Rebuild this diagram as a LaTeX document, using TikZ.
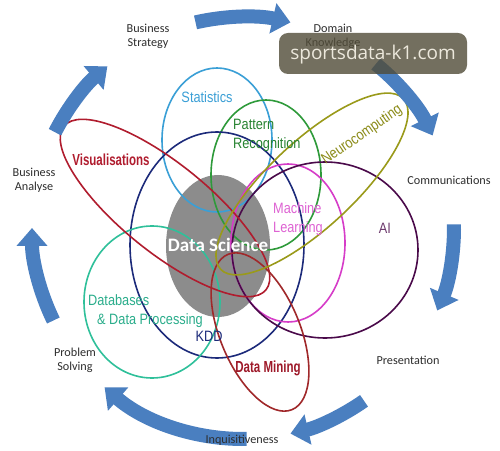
\documentclass[tikz,border=0pt]{standalone}
\usepackage{fontspec}
\setmainfont{Carlito}
\newfontfamily\narrowfont[FakeStretch=0.85]{Liberation Sans}
\newfontfamily\condfont[FakeStretch=0.72]{Liberation Sans}
\newfontfamily\markfont{Open Sans}
\usetikzlibrary{arrows.meta}
\definecolor{cycleblue}{HTML}{4A7FC0}
\definecolor{labelink}{HTML}{2E2E2E}
\definecolor{coregrey}{HTML}{8C8C8C}
\definecolor{statblue}{HTML}{3A9FD6}
\definecolor{patgreen}{HTML}{2E9A3A}
\definecolor{kddnavy}{HTML}{1C2A7A}
\definecolor{visred}{HTML}{B01C2E}
\definecolor{minered}{HTML}{A0282A}
\definecolor{dbteal}{HTML}{2FC09A}
\definecolor{mlpink}{HTML}{D63CC8}
\definecolor{aipurple}{HTML}{4A0A4A}
\definecolor{neuroolive}{HTML}{9A9A1A}
\definecolor{markbox}{HTML}{514C38}
\definecolor{markink}{HTML}{ECE8DC}

\begin{document}
\begin{tikzpicture}[
  x=1pt,
  y=1pt,
  every node/.style={inner sep=0pt},
  outer/.style={font=\fontsize{12.2}{14}\selectfont, align=center, labelink},
  field/.style={font=\narrowfont\fontsize{15}{19}\selectfont},
  fieldbold/.style={font=\condfont\bfseries\fontsize{16}{19}\selectfont},
  set/.style={line width=1.6pt},
  cyclearrow/.style={cycleblue, line width=14pt, -{Triangle[width=30pt, length=18pt]}}
]
  \useasboundingbox[fill=white] (0,0) rectangle (500,450);

  %% ---- the sets -------------------------------------------------------
  \fill[coregrey] (218,204) ellipse [x radius=52, y radius=71];

  \draw[set, statblue]   (217,310) ellipse [x radius=55, y radius=72];
  \draw[set, patgreen]   (266,275) ellipse [x radius=55, y radius=75];
  \draw[set, kddnavy]    (217,205) ellipse [x radius=87, y radius=113];
  \draw[set, dbteal]     (152,148) ellipse [x radius=68, y radius=76];
  \draw[set, mlpink]     (288,207) ellipse [x radius=57, y radius=79];
  \draw[set, aipurple]   (325,200) ellipse [x radius=93, y radius=88];
  \draw[set, visred, rotate around={-39:(165,242)}]
    (165,242) ellipse [x radius=130, y radius=44];
  \draw[set, minered, rotate around={-67.6:(260,118)}]
    (260,118) ellipse [x radius=84, y radius=40];
  \draw[set, neuroolive, rotate around={43:(312,266)}]
    (312,266) ellipse [x radius=125, y radius=43];

  %% ---- outer cycle of arrows (over the sets) --------------------------
  \coordinate (hub) at (243,222);
  \foreach \a/\b in {103/77, 51/26, 1/-23, -55/-77, -89/-131, -154/-180, 153/130}
    \draw[cyclearrow] (hub) ++(\a:211) arc[start angle=\a, end angle=\b, radius=211];

  %% ---- set labels -----------------------------------------------------
  \node[font=\bfseries\fontsize{19}{22}\selectfont, white] (science) at (218,205) {Data Science};
  \node[field, statblue] (stats) at (207,353) {Statistics};
  \node[field, patgreen!85!black, anchor=west, align=left] (pattern) at (233,315)
    {Pattern\\Recognition};
  \node[field, mlpink!80!white, anchor=west, align=left] (learning) at (273,231)
    {Machine\\Learning};
  \node[field, dbteal!90!black, anchor=west, align=left] (databases) at (88,139)
    {Databases\\\hspace{9pt}\& Data Processing};
  \node[field, kddnavy] (kdd) at (209,114) {KDD};
  \node[field, aipurple!80!white] (ai) at (385,222) {AI};
  \node[field, neuroolive!90!black, rotate=34.5] (neuro) at (362,315) {Neurocomputing};
  \node[fieldbold, visred] (vis) at (111,290) {Visualisations};
  \node[fieldbold, visred!90!black] (mining) at (268,82) {Data Mining};

  %% ---- cycle labels ---------------------------------------------------
  \node[outer] (strategy) at (148,414) {Business\\Strategy};
  \node[outer] (domain) at (333,414) {Domain\\Knowledge};
  \node[outer] (comms) at (449,270) {Communications};
  \node[outer] (present) at (408,90) {Presentation};
  \node[outer] (inquis) at (242,10) {Inquisitiveness};
  \node[outer] (problem) at (75,90) {Problem\\Solving};
  \node[outer] (analyse) at (34,270) {Business\\Analyse};

  %% ---- watermark ------------------------------------------------------
  \fill[markbox, fill opacity=0.8, rounded corners=9pt] (279,376) rectangle (467,417);
  \node[font=\markfont\fontsize{19}{22}\selectfont, markink] (mark) at (373,395) {sportsdata-k1.com};

\end{tikzpicture}
\end{document}
